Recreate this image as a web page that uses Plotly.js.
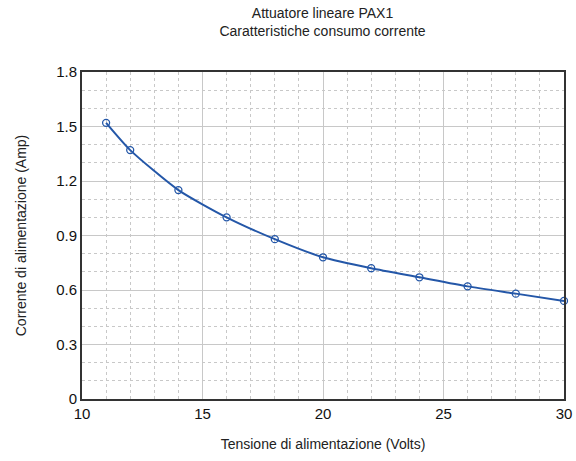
<!DOCTYPE html>
<html>
<head>
<meta charset="utf-8">
<script src="https://cdn.plot.ly/plotly-3.0.1.min.js"></script>
<style>html,body{margin:0;padding:0;background:#fff;}#chart{width:576px;height:461px;}</style>
</head>
<body>
<div id="chart"></div>
<script>
const voltage = [11, 12, 14, 16, 18, 20, 22, 24, 26, 28, 30];
const current = [1.52, 1.37, 1.15, 1.0, 0.88, 0.78, 0.72, 0.67, 0.62, 0.58, 0.54];
const xTicks = [10, 15, 20, 25, 30];
const yTicks = [0, 0.3, 0.6, 0.9, 1.2, 1.5, 1.8];
const yTickLabels = ['0', '0.3', '0.6', '0.9', '1.2', '1.5', '1.8'];

const font = 'Liberation Sans, Arial, sans-serif';
Plotly.newPlot('chart', [{
  x: voltage, y: current, type: 'scatter', mode: 'lines+markers',
  line: {color: '#2457a8', width: 2, shape: 'spline', smoothing: 0.6},
  marker: {symbol: 'circle-open', size: 7, color: '#2457a8', line: {width: 1.3}},
  cliponaxis: false, showlegend: false
}], {
  width: 576, height: 461,
  margin: {l: 82, r: 12, t: 72, b: 62},
  paper_bgcolor: '#fff', plot_bgcolor: '#fff',
  font: {family: font, color: '#222'},
  title: {text: 'Attuatore lineare PAX1<br>Caratteristiche consumo corrente', x: 0.56, xanchor: 'center', y: 0.962, yanchor: 'top', font: {size: 14, family: font, color: '#222'}},
  xaxis: {
    range: [10, 30], tickvals: xTicks, ticks: '', showline: true, linecolor: '#333', linewidth: 2, mirror: true,
    showgrid: true, gridcolor: '#c8c8c8', gridwidth: 1, zeroline: false,
    minor: {dtick: 1, showgrid: true, gridcolor: '#c8c8c8', griddash: 'dot', gridwidth: 1},
    tickfont: {size: 15, family: font, color: '#111'},
    title: {text: 'Tensione di alimentazione (Volts)', font: {size: 14, family: font, color: '#222'}, standoff: 18}
  },
  yaxis: {
    range: [0, 1.8], tickvals: yTicks, ticktext: yTickLabels, ticks: '', showline: true, linecolor: '#333', linewidth: 2, mirror: true,
    showgrid: true, gridcolor: '#c8c8c8', gridwidth: 1, zeroline: false,
    minor: {dtick: 0.1, showgrid: true, gridcolor: '#c8c8c8', griddash: 'dot', gridwidth: 1},
    tickfont: {size: 15, family: font, color: '#111'},
    title: {text: 'Corrente di alimentazione (Amp)', font: {size: 14, family: font, color: '#222'}, standoff: 26}
  }
}, {displayModeBar: false});
</script>
</body>
</html>
